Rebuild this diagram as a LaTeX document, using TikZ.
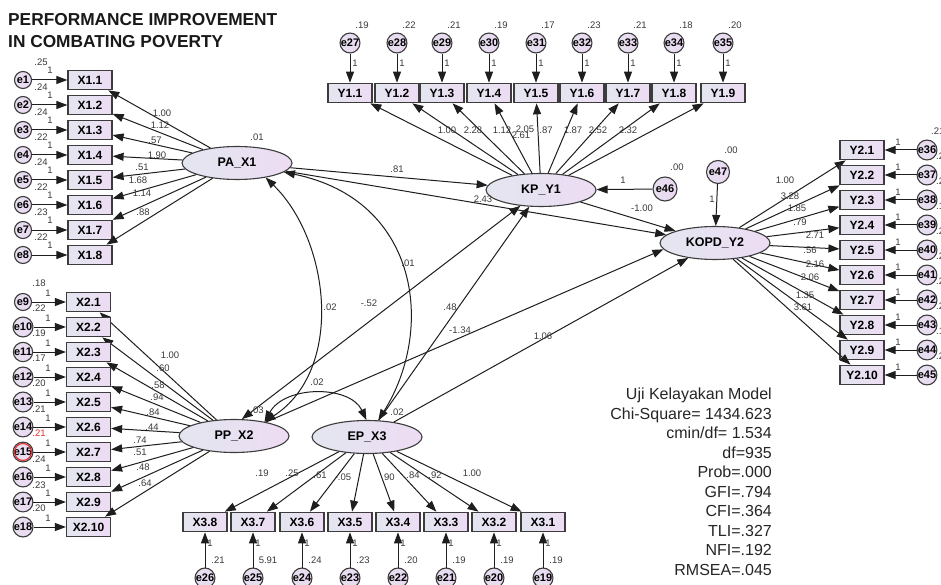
\documentclass[tikz,border=0pt]{standalone}
\usepackage{fontspec}
\setmainfont{Liberation Sans}
\usetikzlibrary{arrows.meta,shapes.geometric}
\definecolor{bxl}{HTML}{E3E6EF}
\definecolor{bxr}{HTML}{EDDCF4}
\definecolor{erl}{HTML}{E6E0EF}
\definecolor{err}{HTML}{EBD9F2}
\definecolor{edgec}{HTML}{3C3C3C}
\definecolor{txt}{HTML}{3A3A3A}
\definecolor{linec}{HTML}{1E1E1E}
\definecolor{selred}{HTML}{E8302A}
\begin{document}
\begin{tikzpicture}[x=1pt,y=-1pt,
  obs/.style={draw=edgec,line width=1.2pt,left color=bxl,right color=bxr,minimum width=44pt,minimum height=19.5pt,inner sep=0pt,font=\fontsize{12}{13}\selectfont\bfseries},
  lat/.style={ellipse,draw=edgec,line width=1.1pt,left color=bxl,right color=bxr,minimum width=110pt,minimum height=33pt,inner sep=0pt,font=\fontsize{12.5}{13}\selectfont\bfseries},
  errc/.style={circle,draw=edgec,line width=1.1pt,left color=erl,right color=err,minimum size=17pt,inner sep=0pt,font=\fontsize{11}{12}\selectfont\bfseries},
  arr/.style={-{Triangle[length=11pt,width=8pt]},line width=1pt,draw=linec},
  cov/.style={{Triangle[length=11pt,width=8pt]}-{Triangle[length=11pt,width=8pt]},line width=1pt,draw=linec},
  lbl/.style={font=\fontsize{9.5}{10}\selectfont,text=txt,inner sep=0pt},
  stat/.style={anchor=base east,font=\fontsize{16}{18}\selectfont,text=black!85,inner sep=0pt},
  ttl/.style={anchor=west,font=\fontsize{17.3}{18}\selectfont\bfseries,text=black!90,inner sep=0pt}
]
\useasboundingbox (0,0) rectangle (941,585);
\fill[white] (0,0) rectangle (941,585);
\clip (0,0) rectangle (941,585);

% title
\node[ttl] (t1) at (8,20) {PERFORMANCE IMPROVEMENT};
\node[ttl] (t2) at (8,42) {IN COMBATING POVERTY};

% latent variables
\node[lat] (PA) at (237,163) {PA\_X1};
\node[lat] (PP) at (234,436) {PP\_X2};
\node[lat] (EP) at (367,437) {EP\_X3};
\node[lat] (KP) at (541,190) {KP\_Y1};
\node[lat] (KO) at (715,243) {KOPD\_Y2};
\node[errc,minimum size=24pt] (e46) at (665,189) {e46};
\node[errc,minimum size=23pt] (e47) at (718,172) {e47};

% X1 block
\foreach \i in {1,...,8}{
  \node[obs] (X1-\i) at (90,{80+25*(\i-1)}) {X1.\i};
  \node[errc] (e\i) at (23,{80+25*(\i-1)}) {e\i};
  \draw[arr] (e\i) -- (X1-\i);
  \node[lbl] (u\i) at (50,{70+25*(\i-1)}) {1};
  \draw[arr] (PA) -- (X1-\i);
}
\foreach \v [count=\i] in {.25,.24,.24,.22,.24,.22,.23,.22}
  \node[lbl] (v\i) at (41,{62+25*(\i-1)}) {\v};
\foreach \v/\x/\y [count=\n] in {1.00/162/113,1.12/160/125,.57/155/140,1.90/157/155,.51/142/167,1.68/138/180,1.14/142/193,.88/143/212}
  \node[lbl] (la\n) at (\x,\y) {\v};

% X2 block
\foreach \i [count=\c from 9] in {1,...,10}{
  \node[obs] (X2-\i) at (88.5,{302+25*(\i-1)}) {X2.\i};
  \node[errc] (e\c) at (23,{302+25*(\i-1)}) {e\c};
  \draw[arr] (e\c) -- (X2-\i);
  \node[lbl] (u\c) at (48,{293+25*(\i-1)}) {1};
  \draw[arr] (PP) -- (X2-\i);
}
\node[circle,draw=selred,line width=1.1pt,minimum size=17pt,inner sep=0pt] (sel) at (e15) {};
\foreach \v/\y/\c [count=\n from 9] in {.18/283/txt,.22/308/txt,.19/333/txt,.17/358/txt,.20/383/txt,.21/409/txt,.21/433/selred,.24/459/txt,.23/485/txt,.20/508/txt}
  \node[lbl,text=\c] (v\n) at (39,\y) {\v};
\foreach \v/\x/\y [count=\n] in {1.00/170/355,.60/163/368,.58/158/385,.94/157/397,.84/153/412,.44/152/427,.74/140/440,.51/140/452,.48/143/467,.64/145/483}
  \node[lbl] (lb\n) at (\x,\y) {\v};

% Y1 block
\foreach \i/\x in {1/350,2/397,3/442,4/489,5/536,6/582,7/628,8/674,9/723}{
  \pgfmathtruncatemacro\c{\i+26}
  \node[obs] (Y1-\i) at (\x,93) {Y1.\i};
  \node[errc] (e\c) at (\x,43) {e\c};
  \draw[arr] (e\c) -- (Y1-\i);
  \node[lbl] (u\c) at (\x+5,63) {1};
  \draw[arr] (KP) -- (Y1-\i);
}
\foreach \v/\x [count=\n from 27] in {.19/362,.22/409,.21/454,.19/501,.17/548,.23/594,.21/640,.18/686,.20/735}
  \node[lbl] (v\n) at (\x,25) {\v};
\foreach \v/\x/\y [count=\n] in {1.00/447/130,2.28/473/130,1.12/502/130,2.61/521/135,2.05/525/129,.87/546/130,1.87/573/130,2.52/598/130,2.32/628/130}
  \node[lbl] (lc\n) at (\x,\y) {\v};

% Y2 block
\foreach \i [count=\c from 36] in {1,...,10}{
  \node[obs] (Y2-\i) at (862,{150+25*(\i-1)}) {Y2.\i};
  \node[errc] (e\c) at (927,{150+25*(\i-1)}) {e\c};
  \draw[arr] (e\c) -- (Y2-\i);
  \node[lbl] (u\c) at (898,{142+25*(\i-1)}) {1};
  \draw[arr] (KO) -- (Y2-\i);
}
\node[lbl,anchor=west] (v36) at (931,131) {.21};
\foreach \v [count=\n from 37] in {.22,.22,.18,.20,.25,.23,.22,.19,.20}
  \node[lbl,anchor=west] (v\n) at (936,{156+25*(\n-37)}) {\v};
\foreach \v/\x/\y [count=\n] in {1.00/785/180,3.28/790/196,1.85/797/208,.79/800/222,2.71/815/235,.56/810/250,2.16/815/264,2.06/810/277,1.35/805/295,3.61/803/307}
  \node[lbl] (ld\n) at (\x,\y) {\v};

% X3 block
\foreach \i/\c/\x in {8/26/205,7/25/253,6/24/302,5/23/350,4/22/398,3/21/446,2/20/494,1/19/543}{
  \node[obs] (X3-\i) at (\x,522) {X3.\i};
  \node[errc] (e\c) at (\x,578) {e\c};
  \draw[arr] (e\c) -- (X3-\i);
  \node[lbl] (u\c) at (\x+5,543) {1};
  \draw[arr] (EP) -- (X3-\i);
}
\foreach \v/\x [count=\n] in {.21/218,5.91/268,.24/315,.23/363,.20/411,.19/459,.19/507,.19/556}
  \node[lbl] (vx\n) at (\x,560) {\v};
\foreach \v/\x/\y [count=\n] in {.19/262/473,.25/292/473,.61/320/475,-.05/343/477,.90/388/477,.84/413/475,.92/435/475,1.00/472/473}
  \node[lbl] (le\n) at (\x,\y) {\v};

% structural paths
\draw[arr] (PA) -- (KP);
\draw[arr] (PA) -- (KO);
\draw[arr] (KP) -- (KO);
\draw[cov] (PP.65) -- (KP);
\draw[arr] (EP) -- (KP);
\draw[arr] (PP) -- (KO.187);
\draw[arr] (EP) -- (KO);
\draw[arr] (e46) -- (KP);
\draw[arr] (e47) -- (KO);

% covariances
\draw[cov] (PA.-27) .. controls (330,240) and (345,370) .. (PP.25);
\draw[cov] (PA.-11) .. controls (420,200) and (435,330) .. (EP.56);
\draw[cov] (PP.25) .. controls (285,385) and (350,385) .. (EP.92);

% path labels
\node[lbl] (s1) at (397,169) {.81};
\node[lbl] (s2) at (483,199) {2.43};
\node[lbl] (s3) at (642,208) {-1.00};
\node[lbl] (s4) at (369,303) {-.52};
\node[lbl] (s5) at (450,307) {.48};
\node[lbl] (s6) at (460,330) {-1.34};
\node[lbl] (s7) at (543,336) {1.06};
\node[lbl] (s8) at (330,307) {.02};
\node[lbl] (s9) at (408,263) {.01};
\node[lbl] (s10) at (317,382) {.02};
\node[lbl] (s11) at (623,180) {1};
\node[lbl] (s12) at (712,199) {1};
\node[lbl] (s13) at (677,167) {.00};
\node[lbl] (s14) at (731,150) {.00};
\node[lbl] (s15) at (257,137) {.01};
\node[lbl] (s16) at (257,410) {.03};
\node[lbl] (s17) at (397,412) {.02};

% fit statistics
\node[stat] (st1) at (772,399) {Uji Kelayakan Model};
\node[stat] (st2) at (772,419) {Chi-Square= 1434.623};
\node[stat] (st3) at (772,438.5) {cmin/df= 1.534};
\node[stat] (st4) at (772,458) {df=935};
\node[stat] (st5) at (772,477.5) {Prob=.000};
\node[stat] (st6) at (772,497) {GFI=.794};
\node[stat] (st7) at (772,516.5) {CFI=.364};
\node[stat] (st8) at (772,536) {TLI=.327};
\node[stat] (st9) at (772,555.5) {NFI=.192};
\node[stat] (st10) at (772,575) {RMSEA=.045};
\end{tikzpicture}
\end{document}
